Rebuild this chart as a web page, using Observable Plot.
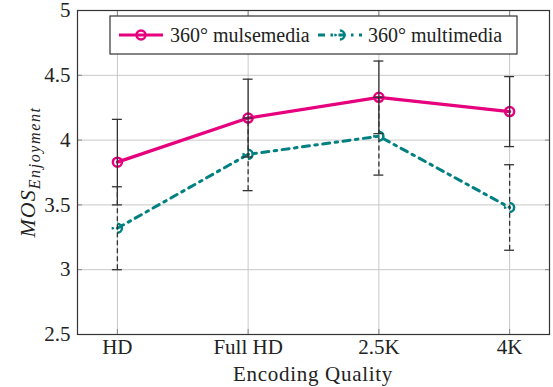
<!DOCTYPE html>
<html><head><meta charset="utf-8">
<script src="https://cdn.jsdelivr.net/npm/d3@7"></script>
<script src="https://cdn.jsdelivr.net/npm/@observablehq/plot@0.6"></script>
<style>body{margin:0;background:#fff}#chart{position:relative;width:553px;height:387px}
#chart svg, #chart svg text{font-family:"Liberation Serif" !important}</style>
</head><body><div id="chart"></div>
<script>
const categories = ["HD", "Full HD", "2.5K", "4K"];
const seriesNames = ["360° mulsemedia", "360° multimedia"];
const mulseMean = [3.83, 4.17, 4.33, 4.22];
const mulseErr = [0.33, 0.30, 0.28, 0.27];
const multiMean = [3.32, 3.89, 4.03, 3.48];
const multiErr = [0.32, 0.28, 0.30, 0.33];
const yTicks = [2.5, 3, 3.5, 4, 4.5, 5];
const xTitle = "Encoding Quality";

const MAG = "#e6007e", TEAL = "#008080";
const DASH = "7,5.5,2.5,5.5";

const idx = categories.map((_, i) => i);
const mulse = idx.map(i => ({i, v: mulseMean[i], e: mulseErr[i]}));
const multi = idx.map(i => ({i, v: multiMean[i], e: multiErr[i]}));
const capW = 0.038;

const plot = Plot.plot({
  width: 553, height: 387,
  marginLeft: 77, marginRight: 4, marginTop: 10, marginBottom: 53,
  style: {fontSize: "21px", color: "#222", background: "#fff"},
  x: {type: "linear", domain: [-0.305, 3.305]},
  y: {domain: [2.5, 5]},
  marks: [
    Plot.gridX(idx, {stroke: "#c8c8c8", strokeOpacity: 1}),
    Plot.gridY(yTicks, {stroke: "#c8c8c8", strokeOpacity: 1}),
    Plot.axisX(idx, {tickSize: 0, tickPadding: 5, tickFormat: i => categories[i], label: null, fontSize: 21}),
    Plot.axisY(yTicks, {tickSize: 0, tickPadding: 7, tickFormat: d => String(d), label: null, fontSize: 21}),
    Plot.axisY(yTicks, {anchor: "left", tickSize: -5, tickFormat: () => "", label: null, stroke: "#888"}),
    Plot.axisY(yTicks, {anchor: "right", tickSize: -5, tickFormat: () => "", label: null, stroke: "#888"}),
    Plot.axisX(idx, {anchor: "bottom", tickSize: -5, tickFormat: () => "", label: null, stroke: "#888"}),
    Plot.axisX(idx, {anchor: "top", tickSize: -5, tickFormat: () => "", label: null, stroke: "#888"}),
    Plot.line(multi, {x: "i", y: "v", stroke: TEAL, strokeWidth: 3, strokeDasharray: DASH}),
    Plot.dot(multi, {x: "i", y: "v", r: 4.5, stroke: TEAL, strokeWidth: 2.5, fill: "none", strokeDasharray: DASH}),
    Plot.line(mulse, {x: "i", y: "v", stroke: MAG, strokeWidth: 3.2}),
    Plot.dot(mulse, {x: "i", y: "v", r: 4.5, stroke: MAG, strokeWidth: 2.5, fill: "none"}),
    Plot.ruleX(multi, {x: "i", y1: d => d.v - d.e, y2: d => d.v + d.e, stroke: "#333", strokeWidth: 1.3, strokeDasharray: "5,3"}),
    Plot.ruleY(multi, {y: d => d.v - d.e, x1: d => d.i - capW, x2: d => d.i + capW, stroke: "#333", strokeWidth: 1.3}),
    Plot.ruleY(multi, {y: d => d.v + d.e, x1: d => d.i - capW, x2: d => d.i + capW, stroke: "#333", strokeWidth: 1.3}),
    Plot.ruleX(mulse, {x: "i", y1: d => d.v - d.e, y2: d => d.v + d.e, stroke: "#333", strokeWidth: 1.3}),
    Plot.ruleY(mulse, {y: d => d.v - d.e, x1: d => d.i - capW, x2: d => d.i + capW, stroke: "#333", strokeWidth: 1.3}),
    Plot.ruleY(mulse, {y: d => d.v + d.e, x1: d => d.i - capW, x2: d => d.i + capW, stroke: "#333", strokeWidth: 1.3}),
    Plot.frame({stroke: "#333", strokeWidth: 1.2})
  ]
});
document.getElementById("chart").appendChild(plot);

const svg = d3.select(plot);
svg.append("text").attr("x", 313).attr("y", 381).attr("text-anchor", "middle")
  .attr("font-size", 21).attr("letter-spacing", 0.7).attr("fill", "#222").text(xTitle);
const yt = svg.append("text").attr("transform", "translate(35,172) rotate(-90)")
  .attr("text-anchor", "middle").attr("font-size", 22)
  .attr("font-style", "italic").attr("fill", "#222");
yt.append("tspan").attr("letter-spacing", 1).text("MOS");
yt.append("tspan").attr("font-size", 16).attr("dy", 5).attr("letter-spacing", 1.6).text("Enjoyment");

const lg = svg.append("g");
lg.append("rect").attr("x", 110).attr("y", 16).attr("width", 407).attr("height", 38)
  .attr("fill", "#fff").attr("stroke", "#333").attr("stroke-width", 1.2);
lg.append("line").attr("x1", 119).attr("x2", 163).attr("y1", 35).attr("y2", 35)
  .attr("stroke", MAG).attr("stroke-width", 3.2);
lg.append("circle").attr("cx", 141).attr("cy", 35).attr("r", 4.5).attr("fill", "none")
  .attr("stroke", MAG).attr("stroke-width", 2.5);
lg.append("text").attr("x", 170).attr("y", 42).attr("text-anchor", "start").attr("font-size", 20)
  .attr("fill", "#222").text(seriesNames[0]);
lg.append("line").attr("x1", 318).attr("x2", 362).attr("y1", 35).attr("y2", 35)
  .attr("stroke", TEAL).attr("stroke-width", 3).attr("stroke-dasharray", DASH);
lg.append("circle").attr("cx", 340).attr("cy", 35).attr("r", 4.5).attr("fill", "none")
  .attr("stroke", TEAL).attr("stroke-width", 2.5).attr("stroke-dasharray", DASH);
lg.append("text").attr("x", 368).attr("y", 42).attr("text-anchor", "start").attr("font-size", 20)
  .attr("fill", "#222").text(seriesNames[1]);
</script>
</body></html>
